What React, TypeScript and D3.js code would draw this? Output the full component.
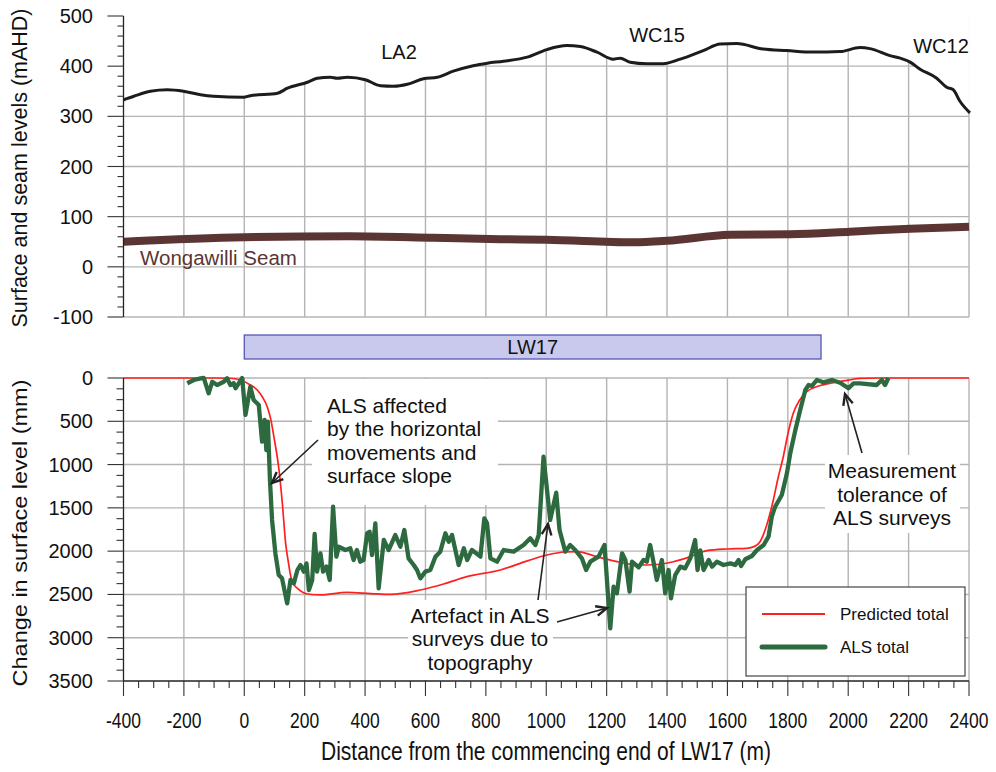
import React from "react";
import * as d3 from "d3";

const surfX = [-400,-366,-311,-255,-201,-145,-102,-3,20,110,143,209,242,285,308,341,401,451,494,540,593,639,692,758,805,858,937,1002,1068,1113,1168,1222,1245,1278,1333,1387,1444,1520,1576,1631,1718,1797,1884,1973,2039,2072,2138,2172,2205,2238,2293,2326,2348,2370,2403];
const surfY = [333,340,350,353,350,343,340,338,341,346,356,368,376,378,376,378,373,361,360,364,375,378,390,401,406,410,418,433,441,439,428,414,416,408,405,405,414,431,444,445,434,431,428,429,437,435,421,416,408,394,376,358,353,330,307];

const seamX = [-400,0,350,626,848,1000,1288,1400,1610,1808,2006,2205,2400];
const seamY = [50,59,61,58,55,54,49,52,64,65,70,76,80];

const predX = [-400,-100,-50,-13,20,43,60,76,88,98,115,126,137,146,154,165,176,209,253,340,420,484,583,660,737,848,940,1002,1060,1102,1168,1235,1278,1333,1421,1480,1532,1600,1664,1690,1708,1730,1752,1768,1785,1800,1818,1840,1863,1900,1951,2000,2039,2100,2400];
const predY = [0,0,3,23,80,139,220,331,480,678,1063,1447,1910,2130,2295,2390,2430,2495,2506,2476,2490,2500,2449,2380,2295,2218,2110,2045,2010,2006,2064,2122,2149,2160,2122,2060,1995,1975,1967,1945,1891,1700,1409,1150,909,650,408,250,158,95,54,25,4,0,0];

const alsX = [-189,-167,-145,-134,-118,-106,-90,-68,-57,-46,-35,-29,-7,4,20,31,48,59,67,73,78,85,92,103,114,125,142,153,164,176,186,197,206,214,225,233,241,252,261,272,283,294,305,313,335,351,362,373,384,395,407,415,423,434,445,462,478,500,517,530,544,561,572,583,600,616,633,649,666,677,688,710,727,738,754,782,795,804,815,837,859,892,925,947,964,975,991,1013,1033,1044,1063,1079,1096,1118,1132,1146,1173,1193,1212,1223,1234,1251,1262,1276,1284,1306,1322,1333,1344,1355,1366,1383,1394,1405,1413,1427,1444,1460,1477,1493,1501,1510,1521,1538,1549,1565,1587,1610,1626,1637,1645,1659,1681,1698,1720,1736,1747,1758,1780,1797,1808,1825,1841,1858,1869,1880,1896,1918,1946,1973,2001,2018,2039,2094,2111,2122,2133];
const alsY = [61,23,4,0,177,43,81,43,4,81,61,119,0,427,100,254,312,736,485,832,505,1178,1640,2025,2276,2314,2603,2333,2372,2218,2160,2237,2141,2449,2333,1802,2237,2025,2237,2179,2333,1487,2064,1949,1987,1967,2102,1987,2122,2102,1794,1775,2045,1679,2430,1871,1987,1814,1949,1756,2083,2160,2218,2314,2237,2218,2064,2006,1794,1891,1814,2160,1967,2102,1987,2064,1621,1679,2083,2122,1987,2006,1929,1852,1929,1814,909,1640,1325,1756,2006,1929,1987,2083,2218,2122,2064,1929,2891,2410,2487,2025,2102,2468,2122,2187,2102,2122,1929,2122,2333,2102,2487,2218,2545,2276,2179,2199,2083,1871,2218,1991,2218,2102,2179,2122,2160,2141,2160,2102,2172,2094,2056,1987,1929,1833,1602,1487,1351,1101,870,601,370,139,81,92,23,50,23,54,119,61,61,81,23,81,0];

const xTicks = [-400,-200,0,200,400,600,800,1000,1200,1400,1600,1800,2000,2200,2400];
const topTicks = [-100,0,100,200,300,400,500];
const botTicks = [0,500,1000,1500,2000,2500,3000,3500];
const siteNames = ["LA2", "WC15", "WC12"];
const sitePx = [399, 657, 941];
const sitePy = [59, 42, 53];

const FONT = "'Liberation Sans', Arial, Helvetica, sans-serif";
const GRID = "#b4b4b4";

export default function App() {
  const x = d3.scaleLinear().domain([-400, 2400]).range([123.5, 969]);
  const yT = d3.scaleLinear().domain([-100, 500]).range([317, 16]);
  const yB = d3.scaleLinear().domain([0, 3500]).range([378, 681]);

  const surf = surfX.map((d, i) => [d, surfY[i]] as [number, number]);
  const seam = seamX.map((d, i) => [d, seamY[i]] as [number, number]);
  const pred = predX.map((d, i) => [d, predY[i]] as [number, number]);
  const als = alsX.map((d, i) => [d, alsY[i]] as [number, number]);

  const surfLine = d3.line<[number, number]>().x(d => x(d[0])).y(d => yT(d[1])).curve(d3.curveMonotoneX);
  const surfArea = d3.area<[number, number]>().x(d => x(d[0])).y0(yT(500) - 2).y1(d => yT(d[1])).curve(d3.curveMonotoneX);
  const seamLine = d3.line<[number, number]>().x(d => x(d[0])).y(d => yT(d[1])).curve(d3.curveMonotoneX);
  const predLine = d3.line<[number, number]>().x(d => x(d[0])).y(d => yB(d[1])).curve(d3.curveMonotoneX);
  const alsLine = d3.line<[number, number]>().x(d => x(d[0])).y(d => yB(d[1]));

  const vGrid = xTicks.filter(t => t > -400);
  const topMinor = d3.range(-100, 501, 20);
  const botMinor = d3.range(0, 3501, 125);
  const xMinor = d3.range(-400, 2401, 50);

  const arrow = (x1: number, y1: number, x2: number, y2: number) => {
    const a = Math.atan2(y2 - y1, x2 - x1);
    const L = 12, w = 0.42;
    const p1 = [x2 - L * Math.cos(a - w), y2 - L * Math.sin(a - w)];
    const p2 = [x2 - L * Math.cos(a + w), y2 - L * Math.sin(a + w)];
    return (
      <g stroke="#222" strokeWidth={1.6} fill="none">
        <line x1={x1} y1={y1} x2={x2} y2={y2} />
        <path d={`M${p1[0]},${p1[1]}L${x2},${y2}L${p2[0]},${p2[1]}`} strokeWidth={2.4} />
      </g>
    );
  };

  return (
    <svg width={996} height={772} style={{ position: "absolute", left: 0, top: 0, background: "#fff" }} fontFamily={FONT}>
      {/* ===== Top panel ===== */}
      {topTicks.filter(t => t < 500).map(t => (
        <line key={"hg" + t} x1={x(-400)} x2={x(2400)} y1={yT(t)} y2={yT(t)} stroke={GRID} strokeWidth={1.4} />
      ))}
      {vGrid.map(t => (
        <line key={"vg" + t} x1={x(t)} x2={x(t)} y1={yT(500)} y2={yT(-100)} stroke={GRID} strokeWidth={1.4} />
      ))}
      <path d={surfArea(surf) || ""} fill="#fff" />
      <path d={surfLine(surf) || ""} fill="none" stroke="#1c1c1c" strokeWidth={3} />
      <path d={seamLine(seam) || ""} fill="none" stroke="#5b3533" strokeWidth={8} />
      <line x1={x(-400)} x2={x(-400)} y1={yT(500)} y2={yT(-100)} stroke="#222" strokeWidth={1.3} />
      {topMinor.map(t => (
        <line key={"tm" + t} x1={x(-400) - (t % 100 === 0 ? 16 : 6)} x2={x(-400)} y1={yT(t)} y2={yT(t)} stroke="#333" strokeWidth={1.1} />
      ))}
      {topTicks.map(t => (
        <text key={"tt" + t} x={93} y={yT(t)} dy="0.35em" textAnchor="end" fontSize={20} fill="#111">{t}</text>
      ))}
      {siteNames.map((s, i) => (
        <text key={s} x={sitePx[i]} y={sitePy[i]} textAnchor="middle" fontSize={20} fill="#111">{s}</text>
      ))}
      <text x={140} y={265} fontSize={20.5} fill="#5b3533">Wongawilli Seam</text>
      <text transform={`translate(27,168) rotate(-90)`} textAnchor="middle" fontSize={21.5} fill="#111">Surface and seam levels (mAHD)</text>

      {/* ===== LW17 bar ===== */}
      <rect x={x(0)} y={335} width={x(1910) - x(0)} height={24} fill="#c9c9ee" stroke="#5656b4" strokeWidth={1.3} />
      <text x={(x(0) + x(1910)) / 2} y={354} textAnchor="middle" fontSize={20} fill="#111">LW17</text>

      {/* ===== Bottom panel ===== */}
      {botTicks.filter(t => t < 3500).map(t => (
        <line key={"bh" + t} x1={x(-400)} x2={x(2400)} y1={yB(t)} y2={yB(t)} stroke={GRID} strokeWidth={1.4} />
      ))}
      {vGrid.map(t => (
        <line key={"bv" + t} x1={x(t)} x2={x(t)} y1={yB(0)} y2={yB(3500)} stroke={GRID} strokeWidth={1.4} />
      ))}
      {/* annotation backgrounds */}
      <rect x={312} y={379} width={186} height={126} fill="#fff" />
      <rect x={408} y={600} width={145} height={80} fill="#fff" />
      <rect x={825} y={455} width={135} height={78} fill="#fff" />

      <path d={predLine(pred) || ""} fill="none" stroke="#ff1f1f" strokeWidth={1.7} />
      <path d={alsLine(als) || ""} fill="none" stroke="#2d6a3f" strokeWidth={4.3} strokeLinejoin="round" />

      <line x1={x(-400)} x2={x(-400)} y1={yB(0)} y2={yB(3500)} stroke="#222" strokeWidth={1.3} />
      <line x1={x(-400)} x2={x(2400)} y1={yB(3500)} y2={yB(3500)} stroke="#222" strokeWidth={1.3} />
      {botMinor.map(t => (
        <line key={"bm" + t} x1={x(-400) - (t % 500 === 0 ? 16 : 7)} x2={x(-400)} y1={yB(t)} y2={yB(t)} stroke="#333" strokeWidth={1.1} />
      ))}
      {xMinor.map(t => (
        <line key={"xm" + t} x1={x(t)} x2={x(t)} y1={yB(3500)} y2={yB(3500) + (t % 200 === 0 ? 15 : 7)} stroke="#333" strokeWidth={1.1} />
      ))}
      {botTicks.map(t => (
        <text key={"bt" + t} x={93} y={yB(t)} dy="0.35em" textAnchor="end" fontSize={20} fill="#111">{t}</text>
      ))}
      {xTicks.map(t => (
        <text key={"xt" + t} transform={`translate(${x(t)},728) scale(1,1.3)`} textAnchor="middle" fontSize={17.5} fill="#111">{t}</text>
      ))}
      <text transform="translate(546,760) scale(1,1.2)" textAnchor="middle" fontSize={21} fill="#111">Distance from the commencing end of LW17 (m)</text>
      <text transform={`translate(27,533) rotate(-90) scale(1.12,1)`} textAnchor="middle" fontSize={21} fill="#111">Change in surface level (mm)</text>

      {/* annotations */}
      <g fontSize={21} fill="#111">
        <text x={327} y={413}>ALS affected</text>
        <text x={327} y={436}>by the horizontal</text>
        <text x={327} y={460}>movements and</text>
        <text x={327} y={483}>surface slope</text>
        <text x={480} y={623} textAnchor="middle">Artefact in ALS</text>
        <text x={480} y={646} textAnchor="middle">surveys due to</text>
        <text x={480} y={670} textAnchor="middle">topography</text>
        <text x={892} y={478} textAnchor="middle">Measurement</text>
        <text x={892} y={502} textAnchor="middle">tolerance of</text>
        <text x={892} y={525} textAnchor="middle">ALS surveys</text>
      </g>
      {arrow(318, 440, 272, 483)}
      {arrow(538, 600, 548, 524)}
      {arrow(557, 622, 607, 608)}
      {arrow(862, 453, 845, 394)}

      {/* legend */}
      <rect x={746} y={587} width={219} height={89} fill="#fff" stroke="#444" strokeWidth={1.2} />
      <line x1={762} x2={825} y1={614} y2={614} stroke="#ff1f1f" strokeWidth={1.8} />
      <line x1={762} x2={825} y1={647} y2={647} stroke="#2d6a3f" strokeWidth={5} strokeLinecap="round" />
      <text x={840} y={620} fontSize={17} fill="#111">Predicted total</text>
      <text x={840} y={653} fontSize={17} fill="#111">ALS total</text>
    </svg>
  );
}
